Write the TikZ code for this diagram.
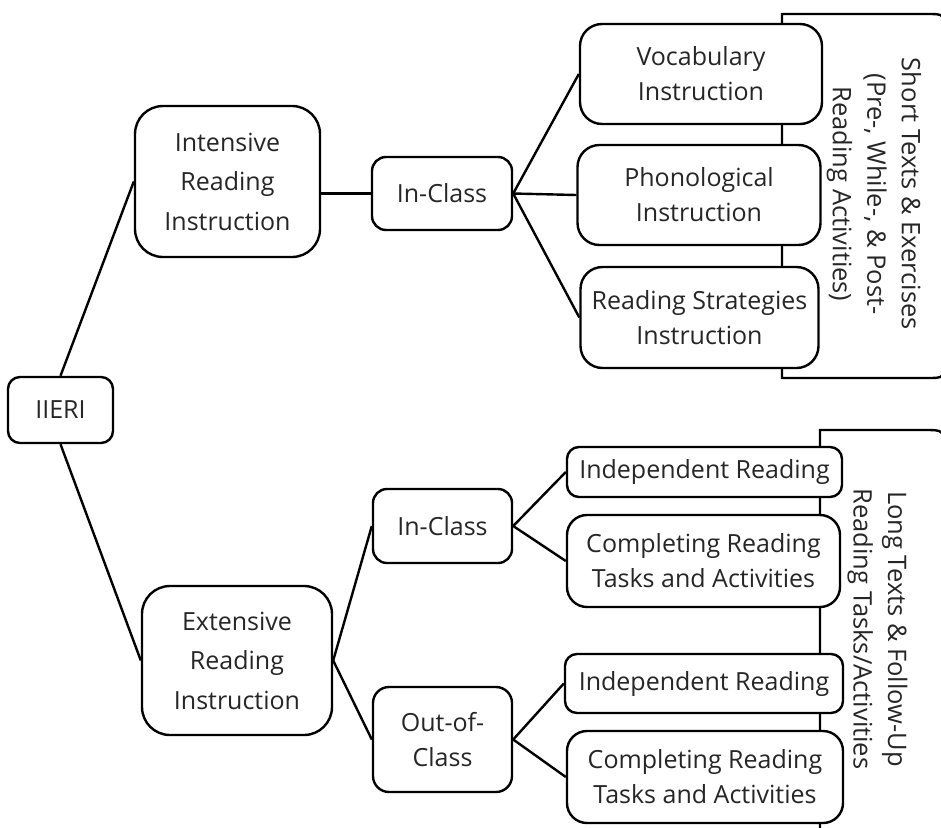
\documentclass[tikz,border=0pt]{standalone}
\usepackage{fontspec}
\setmainfont{Open Sans}
\begin{document}
\begin{tikzpicture}[x=1pt,y=-1pt,line width=2.4pt,
  bx/.style={draw=black, fill=white, align=center, inner sep=0pt, rounded corners=#1,
    text=black!85, font=\fontsize{25}{35}\selectfont},
  bx/.default=16pt,
  big/.style={font=\fontsize{25}{39.5}\selectfont},
  side/.style={rotate=-90, align=center, inner sep=0pt, text=black!85, font=\fontsize{25.5}{34.5}\selectfont},
  conn/.style={draw=black, line width=2.4pt}]
\useasboundingbox (0,0) rectangle (941,827);
\clip (0,0) rectangle (941,827);
% side brackets
\draw (782,378) -- (782,14) -- (927,14) .. controls (944,14) .. (944,31) -- (944,361) .. controls (944,378) .. (927,378) -- cycle;
\draw (820,850) -- (820,430) -- (924,430) .. controls (944,430) .. (944,450) -- (944,850);
\node[side] (t1) at (874,194) {Short Texts \& Exercises\\(Pre-, While-, \& Post-\\Reading Activities)};
\node[side] (t2) at (877.5,629) {Long Texts \& Follow-Up\\Reading Tasks/Activities};
% boxes
\node[bx=12pt, minimum width=105, minimum height=66] (iieri) at (60.5,410) {IIERI};
\node[bx=28pt, big, minimum width=185, minimum height=151] (intensive) at (227.5,181.5) {Intensive\\Reading\\Instruction};
\node[bx=14pt, minimum width=140, minimum height=73] (inclassA) at (442,193.5) {In-Class};
\node[bx=22pt, minimum width=242, minimum height=100] (vocab) at (701,74) {Vocabulary\\Instruction};
\node[bx=22pt, minimum width=243, minimum height=100] (phono) at (699,195) {Phonological\\Instruction};
\node[bx=22pt, minimum width=238, minimum height=101] (strat) at (699.5,317.5) {Reading Strategies\\Instruction};
\node[bx=28pt, big, minimum width=190, minimum height=149] (extensive) at (237,660.5) {Extensive\\Reading\\Instruction};
\node[bx=14pt, minimum width=139, minimum height=74] (inclassB) at (442.5,526) {In-Class};
\node[bx=16pt, minimum width=139, minimum height=105] (outclass) at (442.5,739.5) {Out-of-\\Class};
\node[bx=12pt, minimum width=275, minimum height=50] (indepA) at (704.5,472) {Independent Reading};
\node[bx=20pt, minimum width=273, minimum height=92] (compA) at (703.5,561) {Completing Reading\\Tasks and Activities};
\node[bx=12pt, minimum width=278, minimum height=59] (indepB) at (704,683.5) {Independent Reading};
\node[bx=20pt, minimum width=276, minimum height=92] (compB) at (705,777) {Completing Reading\\Tasks and Activities};
% connectors
\draw[conn] (iieri.north) -- (intensive.west);
\draw[conn] (iieri.south) -- (extensive.west);
\draw[conn] (inclassA.west) -- (inclassA.west -| intensive.east);
\draw[conn] (inclassA.east) -- (vocab.west);
\draw[conn] (inclassA.east) -- (phono.west);
\draw[conn] (inclassA.east) -- (strat.west);
\draw[conn] (extensive.east) -- (inclassB.west);
\draw[conn] (extensive.east) -- (outclass.west);
\draw[conn] (inclassB.east) -- (indepA.west);
\draw[conn] (inclassB.east) -- (compA.west);
\draw[conn] (outclass.east) -- (indepB.west);
\draw[conn] (outclass.east) -- (compB.west);
\end{tikzpicture}
\end{document}
